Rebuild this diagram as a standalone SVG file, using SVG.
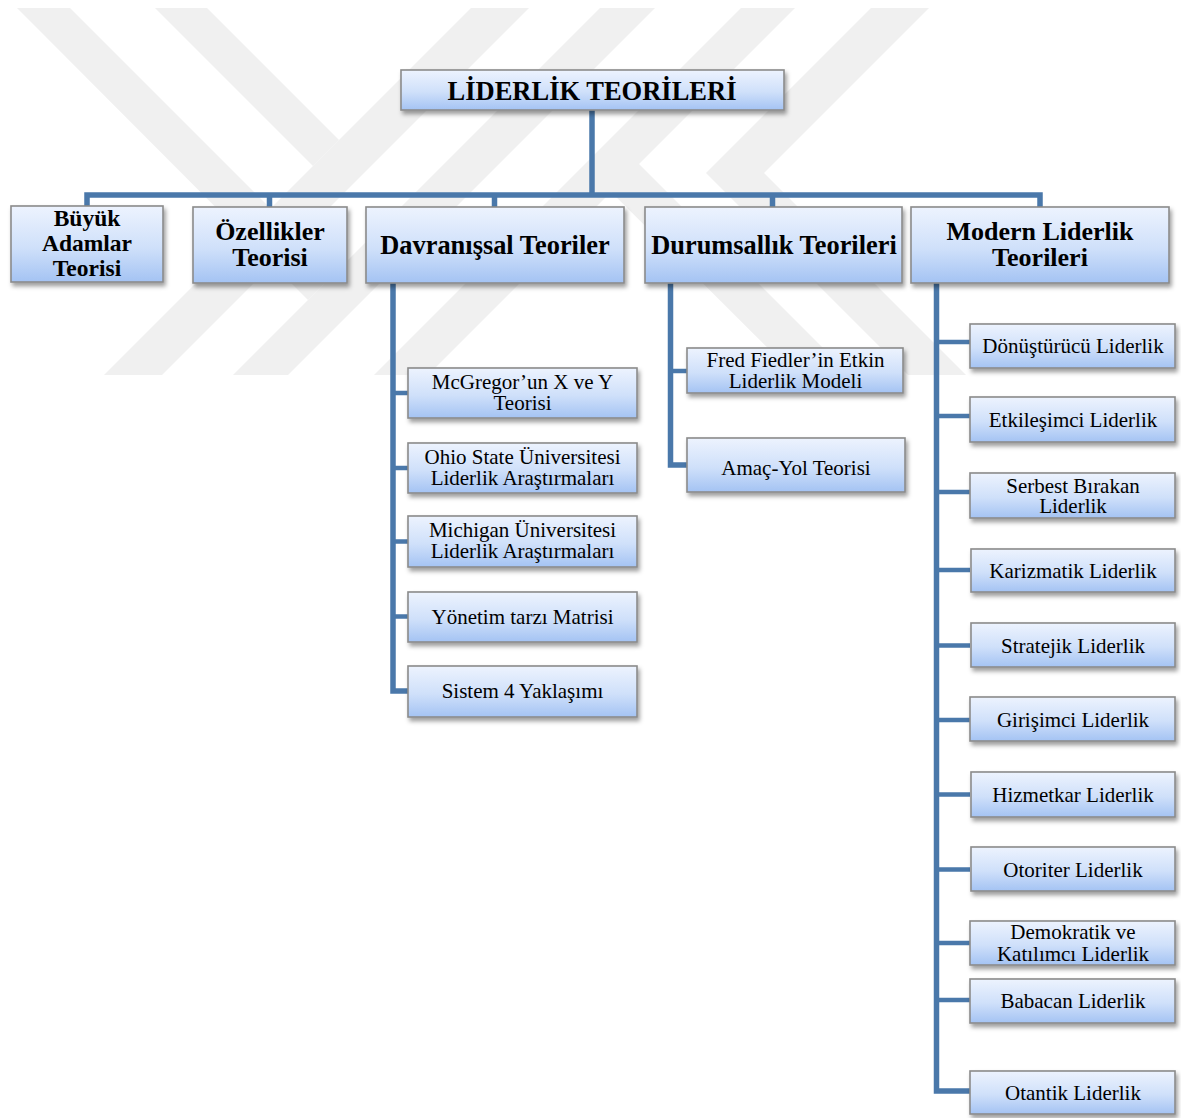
<svg xmlns="http://www.w3.org/2000/svg" width="1181" height="1118" viewBox="0 0 1181 1118">
<defs>
<linearGradient id="boxg" x1="0" y1="0" x2="0" y2="1">
<stop offset="0" stop-color="#edf3fe"/>
<stop offset="0.55" stop-color="#cfe0fa"/>
<stop offset="1" stop-color="#a4c3f3"/>
</linearGradient>
<filter id="sh" x="-10%" y="-20%" width="125%" height="150%">
<feDropShadow dx="2" dy="3.5" stdDeviation="2.2" flood-color="#000" flood-opacity="0.38"/>
</filter>
<style>
.box{fill:url(#boxg);stroke:#8b8b8b;stroke-width:1.6;filter:url(#sh)}
.t{font-family:"Liberation Serif","Times New Roman",serif;fill:#000;text-anchor:middle}
.b{font-weight:bold;font-size:26px}
.r{font-size:21px}
.ln{stroke:#4a78aa;stroke-width:5.5;fill:none;stroke-linejoin:miter}
.br{stroke:#4a78aa;stroke-width:4.5;fill:none}
.wm{fill:#f0f0f0}
</style>
</defs>
<rect width="1181" height="1118" fill="#ffffff"/>
<g id="watermark">
<polygon class="wm" points="17,8 70,8 335,273 308,300"/>
<polygon class="wm" points="155,8 207,8 339,140 313,166"/>
<polygon class="wm" points="471,8 529,8 162,375 104,375"/>
<polygon class="wm" points="600,8 655,8 288,375 233,375"/>
<polygon class="wm" points="741,8 795,8 428,375 374,375"/>
<polygon class="wm" points="584,165 639,164 850,375 795,375"/>
<polygon class="wm" points="871,8 929,8 764,173 966,375 908,375 706,173"/>
</g>
<g id="connectors">
<path class="ln" d="M592,110 V195"/>
<path class="ln" d="M87,207 V195 H1040 V207"/>
<path class="ln" d="M269.5,195 V207"/>
<path class="ln" d="M494.5,195 V207"/>
<path class="ln" d="M772.5,195 V207"/>
<path class="ln" d="M393,283 V691 H408"/>
<path class="br" d="M393,393 H408 M393,468 H408 M393,541.5 H408 M393,616.5 H408"/>
<path class="ln" d="M670.5,283 V465 H687"/>
<path class="br" d="M670.5,371 H687"/>
<path class="ln" d="M936.5,283 V1091 H970"/>
<path class="br" d="M936.5,342 H970 M936.5,416 H970 M936.5,492 H970 M936.5,570 H970 M936.5,645.5 H970 M936.5,720 H970 M936.5,794.5 H970 M936.5,869.5 H970 M936.5,943 H970 M936.5,1000 H970"/>
</g>
<g id="root"><rect class="box" x="401" y="70" width="383" height="40"/><text class="t" font-weight="bold" font-size="26.5" x="592" y="100">LİDERLİK TEORİLERİ</text></g>
<g id="buyuk"><rect class="box" x="11" y="206" width="152" height="76"/><text class="t" font-weight="bold" font-size="23.5" x="87"><tspan x="87" y="225.5">Büyük</tspan><tspan x="87" y="250.5">Adamlar</tspan><tspan x="87" y="276">Teorisi</tspan></text></g>
<g id="ozellikler"><rect class="box" x="193" y="207" width="154" height="76"/><text class="t b" x="270"><tspan x="270" y="240">Özellikler</tspan><tspan x="270" y="266">Teorisi</tspan></text></g>
<g id="davranissal"><rect class="box" x="366" y="207" width="258" height="76"/><text class="t" font-weight="bold" font-size="26.4" x="495" y="254">Davranışsal Teoriler</text></g>
<g id="durumsallik"><rect class="box" x="645" y="207" width="257" height="76"/><text class="t" font-weight="bold" font-size="26.4" x="774" y="254">Durumsallık Teorileri</text></g>
<g id="modern"><rect class="box" x="911" y="207" width="258" height="76"/><text class="t b" x="1040"><tspan x="1040" y="240">Modern Liderlik</tspan><tspan x="1040" y="265.5">Teorileri</tspan></text></g>
<g id="mcgregor"><rect class="box" x="408" y="368" width="229" height="50"/><text class="t r"><tspan x="522.5" y="388.5">McGregor’un X ve Y</tspan><tspan x="522.5" y="410">Teorisi</tspan></text></g>
<g id="ohio"><rect class="box" x="408" y="443" width="229" height="50"/><text class="t r"><tspan x="522.5" y="463.5">Ohio State Üniversitesi</tspan><tspan x="522.5" y="485">Liderlik Araştırmaları</tspan></text></g>
<g id="michigan"><rect class="box" x="408" y="516" width="229" height="51"/><text class="t r"><tspan x="522.5" y="536.7">Michigan Üniversitesi</tspan><tspan x="522.5" y="558.3">Liderlik Araştırmaları</tspan></text></g>
<g id="yonetim"><rect class="box" x="408" y="592" width="229" height="50"/><text class="t r" x="522.5" y="623.5">Yönetim tarzı Matrisi</text></g>
<g id="sistem4"><rect class="box" x="408" y="666" width="229" height="51"/><text class="t r" x="522.5" y="698">Sistem 4 Yaklaşımı</text></g>
<g id="fiedler"><rect class="box" x="687" y="348" width="216" height="45"/><text class="t r"><tspan x="795.5" y="366.5">Fred Fiedler’in Etkin</tspan><tspan x="795.5" y="387.5">Liderlik Modeli</tspan></text></g>
<g id="amacyol"><rect class="box" x="687" y="438" width="218" height="54"/><text class="t r" x="796" y="475">Amaç-Yol Teorisi</text></g>
<g id="donusturucu"><rect class="box" x="970" y="324" width="205" height="44"/><text class="t r" x="1073" y="353.3">Dönüştürücü Liderlik</text></g>
<g id="etkilesimci"><rect class="box" x="970" y="397" width="205" height="45"/><text class="t r" x="1073" y="427.3">Etkileşimci Liderlik</text></g>
<g id="serbest"><rect class="box" x="970" y="473" width="205" height="45"/><text class="t r"><tspan x="1073" y="492.7">Serbest Bırakan</tspan><tspan x="1073" y="513.3">Liderlik</tspan></text></g>
<g id="karizmatik"><rect class="box" x="971" y="549" width="204" height="43"/><text class="t r" x="1073" y="578.3">Karizmatik Liderlik</text></g>
<g id="stratejik"><rect class="box" x="971" y="623" width="204" height="44"/><text class="t r" x="1073" y="653.3">Stratejik Liderlik</text></g>
<g id="girisimci"><rect class="box" x="970" y="697" width="205" height="44"/><text class="t r" x="1073" y="726.7">Girişimci Liderlik</text></g>
<g id="hizmetkar"><rect class="box" x="971" y="772" width="204" height="45"/><text class="t r" x="1073" y="801.7">Hizmetkar Liderlik</text></g>
<g id="otoriter"><rect class="box" x="971" y="847" width="204" height="44"/><text class="t r" x="1073" y="876.7">Otoriter Liderlik</text></g>
<g id="demokratik"><rect class="box" x="970" y="921" width="205" height="44"/><text class="t r"><tspan x="1073" y="939.3">Demokratik ve</tspan><tspan x="1073" y="960.7">Katılımcı Liderlik</tspan></text></g>
<g id="babacan"><rect class="box" x="970" y="979" width="205" height="44"/><text class="t r" x="1073" y="1008.3">Babacan Liderlik</text></g>
<g id="otantik"><rect class="box" x="970" y="1071" width="205" height="43"/><text class="t r" x="1073" y="1100">Otantik Liderlik</text></g>
</svg>
